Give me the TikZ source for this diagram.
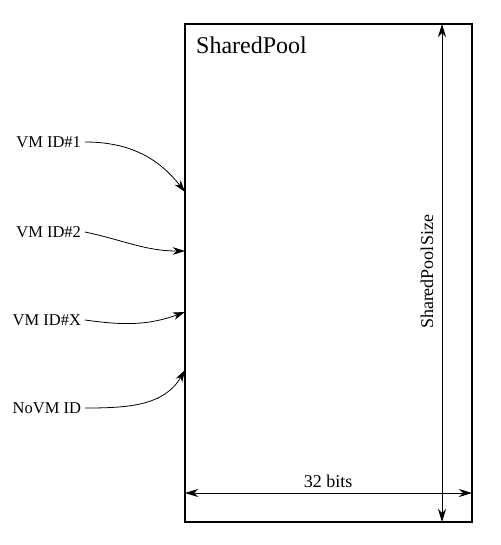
\documentclass[tikz,border=0pt]{standalone}
\usepackage{fontspec}
\setmainfont{Liberation Serif}
\usetikzlibrary{arrows.meta}

\tikzset{
  idlabel/.style={anchor=east,inner sep=0pt,outer sep=4pt,font=\fontsize{16.5}{19}\selectfont},
  feed/.style={-{Stealth[length=12pt,width=7.5pt,inset=3.5pt]},line width=0.8pt},
  dim/.style={{Stealth[length=13pt,width=8pt,inset=4pt]}-{Stealth[length=13pt,width=8pt,inset=4pt]},line width=0.8pt},
}

\begin{document}
\begin{tikzpicture}[x=1pt,y=-1pt]
  \useasboundingbox (0,0) rectangle (500,545);
  % the pool
  \node[draw,line width=1.4pt,outer sep=0pt,inner sep=0pt,minimum width=287pt,minimum height=498pt] (pool) at (328.5,273) {};
  \node[anchor=west,inner sep=0pt,font=\fontsize{24}{28}\selectfont] (title) at ([xshift=11pt,yshift=-21pt]pool.north west) {SharedPool};
  % size arrows
  \draw[dim] ([xshift=-30pt]pool.north east) -- ([xshift=-30pt]pool.south east);
  \node[rotate=90,inner sep=0pt,font=\fontsize{18}{21}\selectfont] (size) at (427,272) {SharedPoolSize};
  \draw[dim] ([yshift=29pt]pool.south west) -- ([yshift=29pt]pool.south east);
  \node[inner sep=0pt,font=\fontsize{18}{21}\selectfont] (bits) at (328,481) {32 bits};
  % ids
  \node[idlabel] (vm1) at (85,142) {VM ID\#1};
  \node[idlabel] (vm2) at (85,232) {VM ID\#2};
  \node[idlabel] (vmx) at (85,320) {VM ID\#X};
  \node[idlabel] (novm) at (85,408) {NoVM ID};
  \coordinate (in1) at (185,192);
  \coordinate (in2) at (185,251);
  \coordinate (inx) at (185,312);
  \coordinate (inn) at (185,370);
  \draw[feed] (vm1.east) to[out=0,in=128] (in1);
  \draw[feed] (vm2.east) to[out=-12,in=180] (in2);
  \draw[feed] (vmx.east) to[out=-8,in=200] (inx);
  \draw[feed] (novm.east) to[out=0,in=240] (inn);
\end{tikzpicture}
\end{document}
